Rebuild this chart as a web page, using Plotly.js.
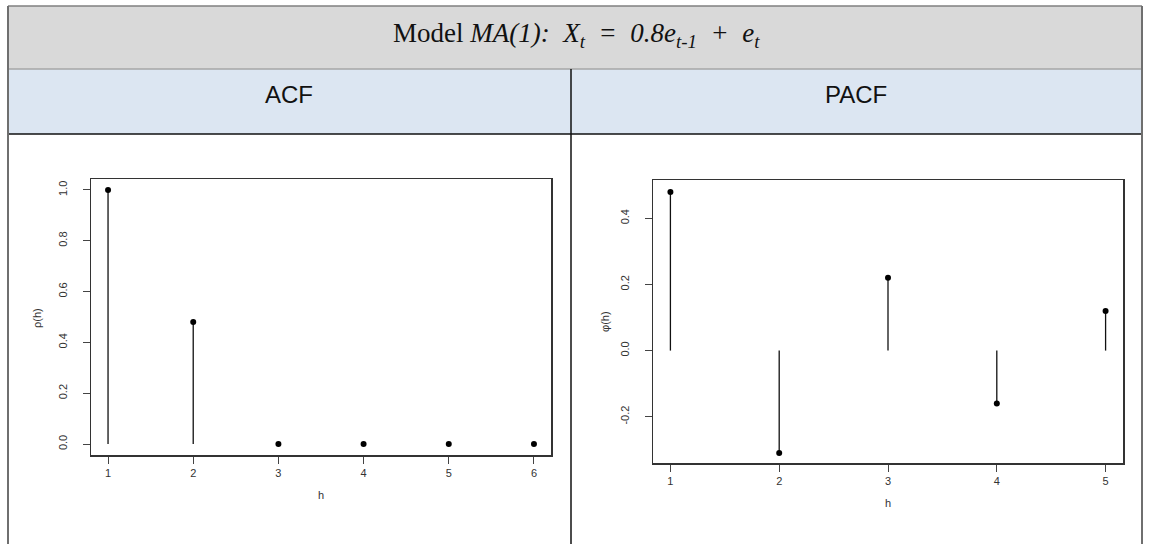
<!DOCTYPE html>
<html>
<head>
<meta charset="utf-8">
<script src="https://cdn.plot.ly/plotly-3.0.1.min.js"></script>
<style>html,body{margin:0;padding:0;background:#fff;}#chart{width:1149px;height:544px;}</style>
</head>
<body>
<div id="chart"></div>
<script>
// ---- data ----
const acfLags = [1, 2, 3, 4, 5, 6];
const acfValues = [1.0, 0.48, 0, 0, 0, 0];
const acfTickVals = [0, 0.2, 0.4, 0.6, 0.8, 1.0];
const acfTickText = ['0.0', '0.2', '0.4', '0.6', '0.8', '1.0'];

const pacfLags = [1, 2, 3, 4, 5];
const pacfValues = [0.48, -0.31, 0.22, -0.16, 0.12];
const pacfTickVals = [-0.2, 0, 0.2, 0.4];
const pacfTickText = ['-0.2', '0.0', '0.2', '0.4'];

const titleText = 'Model <i>MA(1):  X<sub>t</sub>  =  0.8e<sub>t-1</sub>  +  e<sub>t</sub></i>';
const leftHeader = 'ACF';
const rightHeader = 'PACF';
const acfYLabel = 'ρ(h)';
const pacfYLabel = 'φ(h)';
const xLabel = 'h';

// ---- helpers ----
const W = 1149, H = 544;
const px = x => x / W;
const py = y => 1 - y / H;

function stems(xs, ys) {
  const sx = [], sy = [];
  xs.forEach((x, i) => { sx.push(x, x, null); sy.push(0, ys[i], null); });
  return {sx, sy};
}
const a = stems(acfLags, acfValues);
const p = stems(pacfLags, pacfValues);

const traces = [
  {x: a.sx, y: a.sy, xaxis: 'x', yaxis: 'y', mode: 'lines', line: {color: '#111', width: 1.3}, hoverinfo: 'skip', showlegend: false},
  {x: acfLags, y: acfValues, xaxis: 'x', yaxis: 'y', mode: 'markers', marker: {color: '#000', size: 6}, showlegend: false},
  {x: p.sx, y: p.sy, xaxis: 'x2', yaxis: 'y2', mode: 'lines', line: {color: '#111', width: 1.3}, hoverinfo: 'skip', showlegend: false},
  {x: pacfLags, y: pacfValues, xaxis: 'x2', yaxis: 'y2', mode: 'markers', marker: {color: '#000', size: 6}, showlegend: false}
];

const tickFont = {family: 'Liberation Sans, Arial, sans-serif', size: 11, color: '#333'};
const axisCommon = {
  showline: true, mirror: true, linecolor: '#333', linewidth: 1.5,
  ticks: 'outside', ticklen: 7, tickcolor: '#444', tickwidth: 1,
  showgrid: false, zeroline: false, tickfont: tickFont, fixedrange: true
};

const layout = {
  width: W, height: H,
  margin: {l: 0, r: 0, t: 0, b: 0},
  paper_bgcolor: '#fff', plot_bgcolor: '#fff',
  showlegend: false,
  xaxis: Object.assign({}, axisCommon, {domain: [px(91), px(551)], range: [0.8, 6.2], tickvals: acfLags, ticktext: acfLags.map(String), anchor: 'y'}),
  yaxis: Object.assign({}, axisCommon, {domain: [py(455), py(179)], range: [-0.043, 1.043], tickvals: acfTickVals, ticktext: acfTickText, tickangle: -90, ticklabelstandoff: 11, anchor: 'x'}),
  xaxis2: Object.assign({}, axisCommon, {domain: [px(653), px(1123)], range: [0.84, 5.16], tickvals: pacfLags, ticktext: pacfLags.map(String), anchor: 'y2'}),
  yaxis2: Object.assign({}, axisCommon, {domain: [py(463), py(180)], range: [-0.34, 0.516], tickvals: pacfTickVals, ticktext: pacfTickText, tickangle: -90, ticklabelstandoff: 11, anchor: 'x2'}),
  shapes: [
    {type: 'rect', xref: 'paper', yref: 'paper', x0: px(8), x1: px(1142), y0: py(69), y1: py(6), fillcolor: '#d9d9d9', line: {width: 0}, layer: 'below'},
    {type: 'rect', xref: 'paper', yref: 'paper', x0: px(8), x1: px(1142), y0: py(134), y1: py(69), fillcolor: '#dce6f2', line: {width: 0}, layer: 'below'},
    {type: 'line', xref: 'paper', yref: 'paper', x0: px(8), x1: px(1142), y0: py(6), y1: py(6), line: {color: '#7f7f7f', width: 1.5}},
    {type: 'line', xref: 'paper', yref: 'paper', x0: px(8), x1: px(1142), y0: py(69), y1: py(69), line: {color: '#a6a6a6', width: 1.5}},
    {type: 'line', xref: 'paper', yref: 'paper', x0: px(8), x1: px(1142), y0: py(134), y1: py(134), line: {color: '#111', width: 1.5}},
    {type: 'line', xref: 'paper', yref: 'paper', x0: px(8), x1: px(8), y0: py(6), y1: py(544), line: {color: '#6f6f6f', width: 2}},
    {type: 'line', xref: 'paper', yref: 'paper', x0: px(1142), x1: px(1142), y0: py(6), y1: py(544), line: {color: '#6f6f6f', width: 2}},
    {type: 'line', xref: 'paper', yref: 'paper', x0: px(571), x1: px(571), y0: py(69), y1: py(544), line: {color: '#111', width: 1.5}}
  ],
  annotations: [
    {text: titleText, xref: 'paper', yref: 'paper', x: px(576), y: py(35), xanchor: 'center', yanchor: 'middle', showarrow: false,
     font: {family: 'Liberation Serif, DejaVu Serif, serif', size: 27, color: '#111'}},
    {text: leftHeader, xref: 'paper', yref: 'paper', x: px(289), y: py(95), xanchor: 'center', yanchor: 'middle', showarrow: false,
     font: {family: 'Liberation Sans Narrow, Liberation Sans, sans-serif', size: 24, color: '#111'}},
    {text: rightHeader, xref: 'paper', yref: 'paper', x: px(856), y: py(95), xanchor: 'center', yanchor: 'middle', showarrow: false,
     font: {family: 'Liberation Sans Narrow, Liberation Sans, sans-serif', size: 24, color: '#111'}},
    {text: acfYLabel, xref: 'paper', yref: 'paper', x: px(37), y: py(318), xanchor: 'center', yanchor: 'middle', textangle: -90, showarrow: false, font: tickFont},
    {text: pacfYLabel, xref: 'paper', yref: 'paper', x: px(605), y: py(322), xanchor: 'center', yanchor: 'middle', textangle: -90, showarrow: false, font: tickFont},
    {text: xLabel, xref: 'paper', yref: 'paper', x: px(321), y: py(495), xanchor: 'center', yanchor: 'middle', showarrow: false, font: tickFont},
    {text: xLabel, xref: 'paper', yref: 'paper', x: px(888), y: py(503), xanchor: 'center', yanchor: 'middle', showarrow: false, font: tickFont}
  ]
};

Plotly.newPlot('chart', traces, layout, {displayModeBar: false, staticPlot: true});
</script>
</body>
</html>
